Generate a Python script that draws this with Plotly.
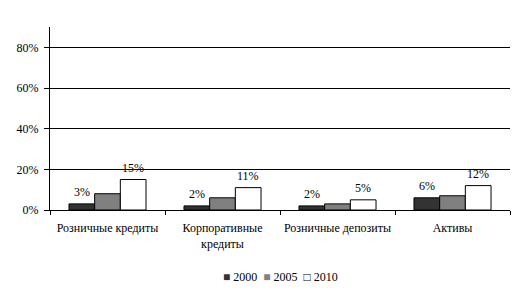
import plotly.graph_objects as go

categories = ["Розничные кредиты", "Корпоративные<br>кредиты", "Розничные депозиты", "Активы"]
years = ["2000", "2005", "2010"]
v2000 = [3, 2, 2, 6]
v2005 = [8, 6, 3, 7]
v2010 = [15, 11, 5, 12]
labels2000 = ["3%", "2%", "2%", "6%"]
labels2010 = ["15%", "11%", "5%", "12%"]
y_ticks = [0, 20, 40, 60, 80]
y_tick_text = ["0%", "20%", "40%", "60%", "80%"]

colors = ["#333333", "#808080", "#ffffff"]
legend_marks = ["■", "■", "□"]
legend_mark_colors = ["#333333", "#808080", "#000000"]
W, H = 525, 295
ML, MR, MT, MB = 50, 15, 27, 85
BARGAP = 0.33
FONT = "Liberation Serif, Times New Roman, serif"

fig = go.Figure()
for name, vals, col in zip(years, [v2000, v2005, v2010], colors):
    fig.add_trace(go.Bar(
        x=categories, y=vals, name=name,
        marker=dict(color=col, line=dict(color="black", width=1)),
    ))

cat_px = (W - ML - MR) / len(categories)
bar_px = cat_px * (1 - BARGAP) / 3
annotations = []
for vals, labs, shift in [(v2000, labels2000, -bar_px), (v2010, labels2010, bar_px)]:
    for c, v, t in zip(categories, vals, labs):
        annotations.append(dict(
            x=c, y=v, text=t, showarrow=False, xshift=shift, yshift=12,
            yanchor="middle", font=dict(family=FONT, size=12, color="black"),
        ))

NB = "\u00a0"
legend_text = (NB * 2).join(
    f'<span style="color:{mc}">{m}</span>{NB}{y}'
    for m, mc, y in zip(legend_marks, legend_mark_colors, years)
)
annotations.append(dict(
    xref="paper", yref="paper", x=0.5, y=-0.366, xanchor="center", yanchor="middle",
    text=legend_text, showarrow=False, font=dict(family=FONT, size=12, color="black"),
))

fig.update_layout(
    width=W, height=H,
    margin=dict(l=ML, r=MR, t=MT, b=MB),
    barmode="group", bargap=BARGAP, bargroupgap=0,
    paper_bgcolor="white", plot_bgcolor="white",
    font=dict(family=FONT, size=12, color="black"),
    annotations=annotations,
    showlegend=False,
    xaxis=dict(showline=True, linecolor="black", linewidth=1, ticks="outside",
               tickson="boundaries", ticklen=4, tickcolor="black", showgrid=False,
               tickangle=0, automargin=False, ticklabelstandoff=7),
    yaxis=dict(range=[0, 90], tickvals=y_ticks, ticktext=y_tick_text, showline=True,
               linecolor="black", linewidth=1, showgrid=True, gridcolor="black", gridwidth=1,
               ticks="outside", ticklen=5, tickcolor="black", zeroline=False, automargin=False,
               ticklabelstandoff=3),
)

fig.write_html("out.html")
